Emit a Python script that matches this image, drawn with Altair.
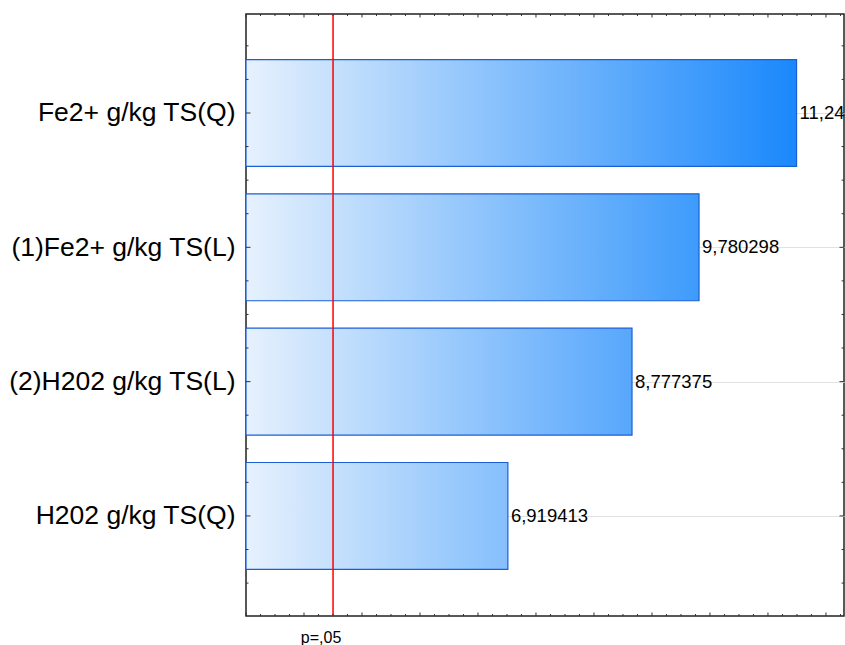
import json
import altair as alt
import pandas as pd

# ---- data ----
factors = ["Fe2+ g/kg TS(Q)", "(1)Fe2+ g/kg TS(L)", "(2)H202 g/kg TS(L)", "H202 g/kg TS(Q)"]
effects = [11.24, 9.780298, 8.777375, 6.919413]
effect_labels = ["11,24", "9,780298", "8,777375", "6,919413"]
t_crit = [4.3027]
crit_label = ["p=,05"]

# ---- layout / style ----
X_MIN, X_MAX = 3.0, 11.95
Y_MIN, Y_MAX = 0.263, 4.745
W, H = 598, 602
HALF = 0.398
MAJOR_STEP = 0.868
C0 = (0xE6, 0xF1, 0xFD)
C1 = (0x1A, 0x88, 0xFB)
FONT = "Liberation Sans"


def to_hex(c):
    return "#%02x%02x%02x" % tuple(int(round(v)) for v in c)


def mix(f):
    return to_hex([a + (b - a) * f for a, b in zip(C0, C1)])


vmax = max(effects)
bars_df = pd.DataFrame({
    "factor": factors,
    "effect": effects,
    "label": effect_labels,
    "pos": list(range(1, len(factors) + 1)),
})
bars_df["top"] = bars_df["pos"] - HALF
bars_df["bottom"] = bars_df["pos"] + HALF

xs = alt.Scale(domain=[X_MIN, X_MAX], nice=False, zero=False)
ys = alt.Scale(domain=[Y_MIN, Y_MAX], reverse=True, nice=False, zero=False)

yaxis = alt.Axis(
    values=list(bars_df["pos"]),
    labelExpr=json.dumps(factors) + "[round(datum.value) - 1]",
    labelFont=FONT, labelFontSize=26.5, labelColor="black", labelLimit=0,
    labelPadding=11, ticks=False, tickSize=0, domain=False,
    grid=True, gridColor="#e2e2e2", gridWidth=1.2, title=None,
)

layers = []
for i in range(len(factors)):
    v = effects[i]
    f = (v - X_MIN) / (vmax - X_MIN)
    grad = alt.LinearGradient(
        gradient="linear",
        stops=[alt.GradientStop(color=to_hex(C0), offset=0),
               alt.GradientStop(color=mix(f), offset=1)],
        x1=0, x2=1, y1=0, y2=0,
    )
    layers.append(
        alt.Chart(bars_df.iloc[[i]]).mark_bar(fill=grad, stroke="#1a5fd6", strokeWidth=1.2).encode(
            x=alt.X("effect:Q", scale=xs, axis=None),
            x2=alt.value(0),
            y=alt.Y("top:Q", scale=ys, axis=yaxis),
            y2="bottom:Q",
        )
    )

# value labels
layers.append(
    alt.Chart(bars_df).mark_text(align="left", baseline="middle", dx=3, fontSize=18.5, font=FONT,
                                 color="black").encode(
        x=alt.X("effect:Q", scale=xs, axis=None),
        y=alt.Y("pos:Q", scale=ys, axis=yaxis),
        text="label:N",
    )
)

# critical value line and label
crit_df = pd.DataFrame({"t": t_crit, "lab": crit_label})
layers.append(
    alt.Chart(crit_df).mark_rule(color="#ff0000", strokeWidth=1.5).encode(
        x=alt.X("t:Q", scale=xs, axis=None)
    )
)
layers.append(
    alt.Chart(crit_df).mark_text(align="center", baseline="alphabetic", dx=-12, fontSize=16, font=FONT,
                                 color="black").encode(
        x=alt.X("t:Q", scale=xs, axis=None),
        y=alt.value(H + 27),
        text="lab:N",
    )
)

# inward axis ticks
n_major_x = int((X_MAX - X_MIN) / MAJOR_STEP) + 1
xmaj = pd.DataFrame({"v": [X_MIN + k * MAJOR_STEP for k in range(n_major_x)]})
xmin_t = pd.DataFrame({"v": [X_MIN + k * MAJOR_STEP / 4 for k in range(int((X_MAX - X_MIN) / (MAJOR_STEP / 4)) + 1)
                             if k % 4 != 0]})
ymaj = pd.DataFrame({"v": list(bars_df["pos"])})
ymin_t = pd.DataFrame({"v": [p + d for p in [0] + list(bars_df["pos"]) for d in (0.25, 0.5, 0.75)
                             if Y_MIN < p + d < Y_MAX]})

TICK = "#333333"
for df, ln in ((xmaj, 3.5), (xmin_t, 2)):
    for y0, y1 in ((H, H - ln), (0, ln)):
        layers.append(
            alt.Chart(df).mark_rule(color=TICK, strokeWidth=1).encode(
                x=alt.X("v:Q", scale=xs, axis=None), y=alt.value(y0), y2=alt.value(y1)
            )
        )
for df, ln in ((ymaj, 4.5), (ymin_t, 2.5)):
    for x0, x1 in ((0, ln), (W, W - ln)):
        layers.append(
            alt.Chart(df).mark_rule(color=TICK, strokeWidth=1).encode(
                y=alt.Y("v:Q", scale=ys, axis=yaxis), x=alt.value(x0), x2=alt.value(x1)
            )
        )

chart = alt.layer(*layers).properties(
    width=W, height=H,
    autosize=alt.AutoSizeParams(type="none"),
    padding={"left": 246, "top": 14, "right": 1, "bottom": 29},
    background="white",
).configure_view(stroke="#222222", strokeWidth=1.5)

chart.save("out.html", embed_options={"renderer": "svg", "actions": False})
